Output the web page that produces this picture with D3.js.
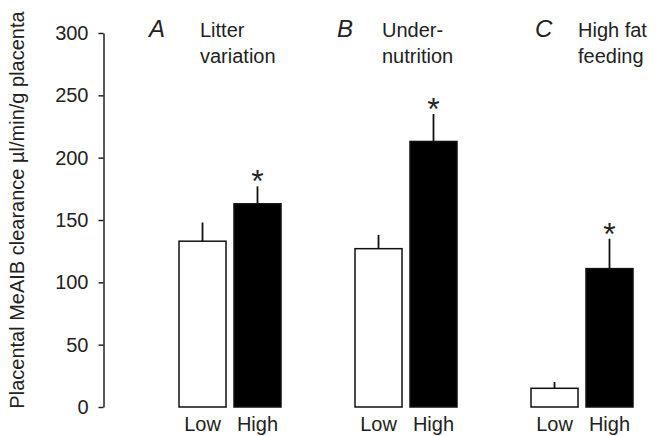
<!DOCTYPE html>
<html lang="en">
<head>
<meta charset="utf-8">
<title>Placental MeAIB clearance</title>
<script src="https://d3js.org/d3.v7.min.js"></script>
<style>
  body { margin: 0; background: #fff; }
  svg { display: block; font-family: 'Liberation Sans', Arial, sans-serif; }
  text { fill: #222; }
</style>
</head>
<body>
<div id="chart"></div>
<script>
// data
var panels = ["A", "B", "C"];
var panelTitles = [["Litter", "variation"], ["Under-", "nutrition"], ["High fat", "feeding"]];
var groups = ["Low", "High"];
var lowMeans = [133, 127, 15];
var lowSem = [15, 11, 5];
var highMeans = [163, 213, 111];
var highSem = [14, 22, 24];
var significant = [true, true, true];
var yTicks = [0, 50, 100, 150, 200, 250, 300];

var W = 665, H = 436;
var svg = d3.select("#chart").append("svg").attr("width", W).attr("height", H);

var y = d3.scaleLinear().domain([0, 300]).range([407, 33]);
var xPanel = d3.scaleBand().domain(panels).range([142, 670]).padding(0);
var xGroup = d3.scaleBand().domain(groups).range([-51, 51]).paddingInner(0.145).paddingOuter(0);

// y axis
var yAxis = d3.axisLeft(y).tickValues(yTicks).tickSize(5).tickSizeOuter(0).tickPadding(10);
var ax = svg.append("g").attr("transform", "translate(103.5,0)").call(yAxis);
ax.select(".domain").attr("stroke", "#222").attr("stroke-width", 1.5);
ax.selectAll(".tick line").attr("stroke", "#222").attr("stroke-width", 1.5);
ax.selectAll(".tick text").style("font-size", "20px").attr("fill", "#222");

svg.append("text")
    .attr("transform", "translate(24,210) rotate(-90)")
    .attr("text-anchor", "middle")
    .style("font-size", "20px")
    .text("Placental MeAIB clearance \u00b5l/min/g placenta");

var rows = [];
panels.forEach(function(p, i) {
  rows.push({panel: p, group: "Low", mean: lowMeans[i], sem: lowSem[i], star: false});
  rows.push({panel: p, group: "High", mean: highMeans[i], sem: highSem[i], star: significant[i]});
});

var bx = function(d) { return xPanel(d.panel) + xPanel.bandwidth() / 2 + xGroup(d.group); };

// error bars (upper only)
svg.selectAll(".err").data(rows).enter().append("line")
    .attr("x1", function(d) { return bx(d) + xGroup.bandwidth() / 2; })
    .attr("x2", function(d) { return bx(d) + xGroup.bandwidth() / 2; })
    .attr("y1", function(d) { return y(d.mean); })
    .attr("y2", function(d) { return y(d.mean + d.sem); })
    .attr("stroke", "#111").attr("stroke-width", 1.8);

svg.selectAll(".bar").data(rows).enter().append("rect")
    .attr("x", bx)
    .attr("y", function(d) { return y(d.mean); })
    .attr("width", xGroup.bandwidth())
    .attr("height", function(d) { return y(0) - y(d.mean); })
    .attr("fill", function(d) { return d.group === "High" ? "#000" : "#fff"; })
    .attr("stroke", "#111").attr("stroke-width", 1.5);

svg.selectAll(".star").data(rows.filter(function(d) { return d.star; })).enter().append("text")
    .attr("x", function(d) { return bx(d) + xGroup.bandwidth() / 2; })
    .attr("y", function(d) { return y(d.mean + d.sem) + 6; })
    .attr("text-anchor", "middle")
    .style("font-size", "32px")
    .text("*");

svg.selectAll(".cat").data(rows).enter().append("text")
    .attr("x", function(d) { return bx(d) + xGroup.bandwidth() / 2; })
    .attr("y", 431)
    .attr("text-anchor", "middle")
    .style("font-size", "20px")
    .text(function(d) { return d.group; });

// panel letters and titles
var letterX = [149, 337, 535], titleX = [200, 382, 578];
panels.forEach(function(p, i) {
  svg.append("text").attr("x", letterX[i]).attr("y", 37)
      .style("font-size", "24px").style("font-style", "italic").text(p);
  var t = svg.append("text").attr("x", titleX[i]).attr("y", 37).style("font-size", "20px");
  panelTitles[i].forEach(function(line, k) {
    t.append("tspan").attr("x", titleX[i]).attr("dy", k === 0 ? 0 : 26).text(line);
  });
});
</script>
</body>
</html>
